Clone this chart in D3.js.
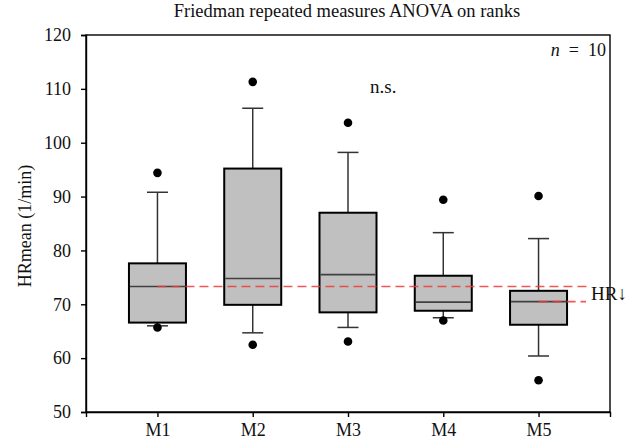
<!DOCTYPE html>
<html>
<head>
<meta charset="utf-8">
<script src="https://cdn.jsdelivr.net/npm/d3@7"></script>
<style>
  body { margin: 0; background: #fff; }
  svg text { font-family: "Liberation Serif", "DejaVu Serif", serif; fill: #111; }
</style>
</head>
<body>
<div id="chart"></div>
<script>
const W = 640
const H = 446

// data
let groups = ['M1', 'M2', 'M3', 'M4', 'M5']
let whiskLow = [66.0, 64.7, 65.7, 67.5, 60.4]
let q1 = [66.6, 69.9, 68.5, 68.8, 66.2]
let median = [73.3, 74.8, 75.5, 70.4, 70.5]
let q3 = [77.6, 95.2, 87.0, 75.3, 72.5]
let whiskHigh = [90.8, 106.4, 98.2, 83.3, 82.2]
let outliers = [[65.7, 94.4], [62.5, 111.3], [63.1, 103.7], [67.0, 89.4], [55.9, 90.1]]
let yTicks = [50, 60, 70, 80, 90, 100, 110, 120]

let margin = { top: 35, right: 30, bottom: 34, left: 86 }

let svg = d3.select('#chart')
  .append('svg')
  .attr('width', W)
  .attr('height', H)

let x = d3.scalePoint()
  .domain(groups)
  .range([margin.left, W - margin.right])
  .padding(0.75)

let y = d3.scaleLinear()
  .domain([50, 120])
  .range([H - margin.bottom, margin.top])

let boxW = 57
let capW = 21

// frame
svg.append('rect')
  .attr('x', margin.left)
  .attr('y', margin.top)
  .attr('width', W - margin.right - margin.left)
  .attr('height', H - margin.bottom - margin.top)
  .attr('fill', 'none')
  .attr('stroke', '#000')
  .attr('stroke-width', 1.4)

// axes
let yAxis = svg.append('g')
  .attr('transform', `translate(${margin.left},0)`)
  .call(d3.axisLeft(y).tickValues(yTicks).tickSize(5).tickPadding(10))
let xAxis = svg.append('g')
  .attr('transform', `translate(0,${H - margin.bottom})`)
  .call(d3.axisBottom(x).tickSize(5).tickPadding(6))

;[yAxis, xAxis].forEach(a => {
  a.select('.domain').attr('stroke', '#000').attr('stroke-width', 1.4)
  a.selectAll('.tick line').attr('stroke', '#000').attr('stroke-width', 1.4)
  a.selectAll('.tick text')
    .attr('font-family', '"Liberation Serif", serif')
    .attr('font-size', 18)
    .attr('fill', '#111')
})

let boxes = svg.selectAll('.box')
  .data(groups)
  .enter()
  .append('g')
  .attr('class', 'box')

// whiskers
boxes.append('line')
  .attr('x1', d => x(d)).attr('x2', d => x(d))
  .attr('y1', (d, i) => y(whiskLow[i])).attr('y2', (d, i) => y(q1[i]))
  .attr('stroke', '#333').attr('stroke-width', 1.5)
boxes.append('line')
  .attr('x1', d => x(d)).attr('x2', d => x(d))
  .attr('y1', (d, i) => y(q3[i])).attr('y2', (d, i) => y(whiskHigh[i]))
  .attr('stroke', '#333').attr('stroke-width', 1.5)
boxes.append('line')
  .attr('x1', d => x(d) - capW / 2).attr('x2', d => x(d) + capW / 2)
  .attr('y1', (d, i) => y(whiskLow[i])).attr('y2', (d, i) => y(whiskLow[i]))
  .attr('stroke', '#333').attr('stroke-width', 1.5)
boxes.append('line')
  .attr('x1', d => x(d) - capW / 2).attr('x2', d => x(d) + capW / 2)
  .attr('y1', (d, i) => y(whiskHigh[i])).attr('y2', (d, i) => y(whiskHigh[i]))
  .attr('stroke', '#333').attr('stroke-width', 1.5)

// boxes
boxes.append('rect')
  .attr('x', d => x(d) - boxW / 2)
  .attr('y', (d, i) => y(q3[i]))
  .attr('width', boxW)
  .attr('height', (d, i) => y(q1[i]) - y(q3[i]))
  .attr('fill', '#c0c0c0')
  .attr('stroke', '#000')
  .attr('stroke-width', 2)

boxes.append('line')
  .attr('x1', d => x(d) - boxW / 2 + 1).attr('x2', d => x(d) + boxW / 2 - 1)
  .attr('y1', (d, i) => y(median[i])).attr('y2', (d, i) => y(median[i]))
  .attr('stroke', '#404040').attr('stroke-width', 1.6)

// outliers
groups.forEach((g, i) => {
  svg.selectAll(null)
    .data(outliers[i])
    .enter()
    .append('circle')
    .attr('cx', x(g))
    .attr('cy', d => y(d))
    .attr('r', 4.3)
    .attr('fill', '#000')
})

// reference lines
let refTop = median[0]
let refLow = median[4]
svg.append('line')
  .attr('x1', x('M1')).attr('x2', 590)
  .attr('y1', y(refTop)).attr('y2', y(refTop))
  .attr('stroke', '#ee3a3a').attr('stroke-opacity', 0.85)
  .attr('stroke-width', 1.6).attr('stroke-dasharray', '9,5')
svg.append('line')
  .attr('x1', x('M5')).attr('x2', 586)
  .attr('y1', y(refLow)).attr('y2', y(refLow))
  .attr('stroke', '#ee3a3a').attr('stroke-opacity', 0.85)
  .attr('stroke-width', 1.6).attr('stroke-dasharray', '9,5')

// texts
svg.append('text')
  .attr('x', 591).attr('y', 300)
  .attr('font-size', 19)
  .text('HR↓')

svg.append('text')
  .attr('x', 347).attr('y', 17)
  .attr('text-anchor', 'middle')
  .attr('font-size', 18.5)
  .text('Friedman repeated measures ANOVA on ranks')

svg.append('text')
  .attr('x', 370).attr('y', 93)
  .attr('font-size', 19)
  .text('n.s.')

let nText = svg.append('text')
  .attr('x', 606).attr('y', 56)
  .attr('text-anchor', 'end')
  .attr('font-size', 18)
nText.append('tspan').attr('font-style', 'italic').text('n')
nText.append('tspan').text('\u2002=\u200210')

svg.append('text')
  .attr('transform', `translate(31,226) rotate(-90)`)
  .attr('text-anchor', 'middle')
  .attr('font-size', 18)
  .text('HRmean (1/min)')
</script>
</body>
</html>
